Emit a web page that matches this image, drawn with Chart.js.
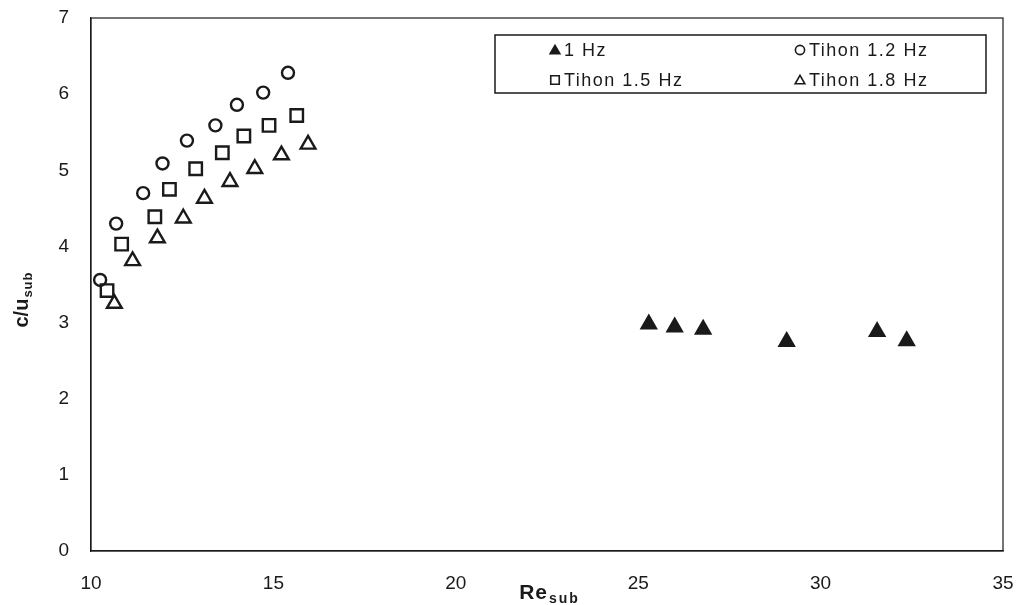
<!DOCTYPE html>
<html>
<head>
<meta charset="utf-8">
<script src="https://cdn.jsdelivr.net/npm/chart.js@4/dist/chart.umd.min.js"></script>
<style>
html,body{margin:0;padding:0;background:#fff;}
#wrap{width:1024px;height:605px;}
</style>
</head>
<body>
<div id="wrap"><canvas id="chart" width="1024" height="605"></canvas></div>
<script>
// values
let hz1X = [25.29, 26.0, 26.78, 29.07, 31.55, 32.36];
let hz1Y = [2.98, 2.94, 2.91, 2.75, 2.88, 2.76];

let t12X = [10.25, 10.69, 11.43, 11.96, 12.63, 13.41, 14.0, 14.72, 15.40];
let t12Y = [3.56, 4.30, 4.70, 5.09, 5.39, 5.59, 5.86, 6.02, 6.28];

let t15X = [10.44, 10.84, 11.75, 12.15, 12.87, 13.60, 14.19, 14.88, 15.64];
let t15Y = [3.42, 4.03, 4.39, 4.75, 5.02, 5.23, 5.45, 5.59, 5.72];

let t18X = [10.64, 11.14, 11.82, 12.53, 13.11, 13.81, 14.49, 15.22, 15.95];
let t18Y = [3.25, 3.81, 4.11, 4.37, 4.63, 4.85, 5.02, 5.20, 5.34];

let xTicks = [10, 15, 20, 25, 30, 35];
let yTicks = [0, 1, 2, 3, 4, 5, 6, 7];

let ink = "#1a1a1a";
let font = "Liberation Sans, Arial, sans-serif";

function pts(xs, ys){
return xs.map(function(x, i){ return {x: x, y: ys[i]}; });
}

function ds(label, xs, ys, style, r, filled){
return {
label: label,
data: pts(xs, ys),
pointStyle: style,
pointRadius: r,
pointHoverRadius: r,
borderWidth: 2.4,
borderColor: ink,
backgroundColor: filled ? ink : "rgba(0,0,0,0)",
showLine: false
};
}

// legend box drawn inside plot area, 2 columns
let boxLegend = {
id: "boxLegend",
afterDraw: function(c){
let ctx = c.ctx;
ctx.save();
ctx.strokeStyle = ink;
ctx.lineWidth = 1.5;
ctx.strokeRect(495, 35, 491, 58);
ctx.font = "18px " + font;
ctx.letterSpacing = "1.5px";
ctx.fillStyle = ink;
ctx.textBaseline = "middle";
let spots = [[564, 50], [809, 50], [564, 80], [809, 80]];
c.data.datasets.forEach(function(d, i){
let p = spots[i];
let r = 4.6;
if(d.pointStyle === "rect") r = 6;
if(d.pointStyle === "triangle") r = 5.6;
let st = {pointStyle: d.pointStyle, radius: r, borderWidth: 1.6, rotation: 0};
ctx.strokeStyle = ink;
ctx.fillStyle = d.backgroundColor;
ctx.lineWidth = 1.6;
Chart.helpers.drawPoint(ctx, st, p[0] - 9, p[1] + (d.pointStyle === "triangle" ? 1 : 0));
ctx.fillStyle = ink;
ctx.fillText(d.label, p[0], p[1] + 1);
});
ctx.restore();
}
};

// axis titles with subscripts + frame
let axisTitles = {
id: "axisTitles",
afterDraw: function(c){
let ctx = c.ctx;
let a = c.chartArea;
ctx.save();
ctx.strokeStyle = ink;
ctx.lineWidth = 1.2;
ctx.strokeRect(a.left, a.top, a.right - a.left, a.bottom - a.top);
ctx.fillStyle = ink;
ctx.textBaseline = "alphabetic";
// x title
ctx.font = "bold 21px " + font;
ctx.letterSpacing = "1px";
let w1 = ctx.measureText("Re").width;
ctx.font = "bold 14px " + font;
ctx.letterSpacing = "2px";
let w2 = ctx.measureText("sub").width;
let x0 = 549 - (w1 + w2) / 2;
ctx.font = "bold 21px " + font;
ctx.letterSpacing = "1px";
ctx.fillText("Re", x0, 599);
ctx.font = "bold 14px " + font;
ctx.letterSpacing = "2px";
ctx.fillText("sub", x0 + w1 + 1, 603);
// y title
ctx.translate(28, 300);
ctx.rotate(-Math.PI / 2);
ctx.font = "bold 20px " + font;
ctx.letterSpacing = "0px";
w1 = ctx.measureText("c/u").width;
ctx.font = "bold 13px " + font;
ctx.letterSpacing = "1px";
w2 = ctx.measureText("sub").width;
x0 = -(w1 + w2) / 2;
ctx.font = "bold 20px " + font;
ctx.letterSpacing = "0px";
ctx.fillText("c/u", x0, 0);
ctx.font = "bold 13px " + font;
ctx.letterSpacing = "1px";
ctx.fillText("sub", x0 + w1 + 1, 4);
ctx.restore();
}
};

let chart = new Chart(document.getElementById("chart"), {
type: "scatter",
data: {
datasets: [
ds("1 Hz", hz1X, hz1Y, "triangle", 8.2, true),
ds("Tihon 1.2 Hz", t12X, t12Y, "circle", 6, false),
ds("Tihon 1.5 Hz", t15X, t15Y, "rect", 8.8, false),
ds("Tihon 1.8 Hz", t18X, t18Y, "triangle", 8.5, false)
]
},
options: {
responsive: false,
animation: false,
layout: {padding: {top: 18, right: 21, left: 0, bottom: 0}},
plugins: {legend: {display: false}, tooltip: {enabled: false}},
scales: {
x: {
type: "linear",
min: 10, max: 35,
afterBuildTicks: function(s){ s.ticks = xTicks.map(function(v){ return {value: v}; }); },
afterFit: function(s){ s.height = 54; s.paddingLeft = 0; s.paddingRight = 0; },
grid: {display: false, drawTicks: true, tickLength: 5, color: ink},
border: {display: true, color: ink, width: 1.2},
ticks: {color: ink, font: {size: 19, family: font}, padding: 16, maxRotation: 0}
},
y: {
min: 0, max: 7,
afterBuildTicks: function(s){ s.ticks = yTicks.map(function(v){ return {value: v}; }); },
afterFit: function(s){ s.width = 91; s.paddingTop = 0; s.paddingBottom = 0; },
grid: {display: false, drawTicks: true, tickLength: 7, color: ink},
border: {display: true, color: ink, width: 1.2},
ticks: {color: ink, font: {size: 19, family: font}, padding: 15}
}
}
},
plugins: [boxLegend, axisTitles]
});
</script>
</body>
</html>
